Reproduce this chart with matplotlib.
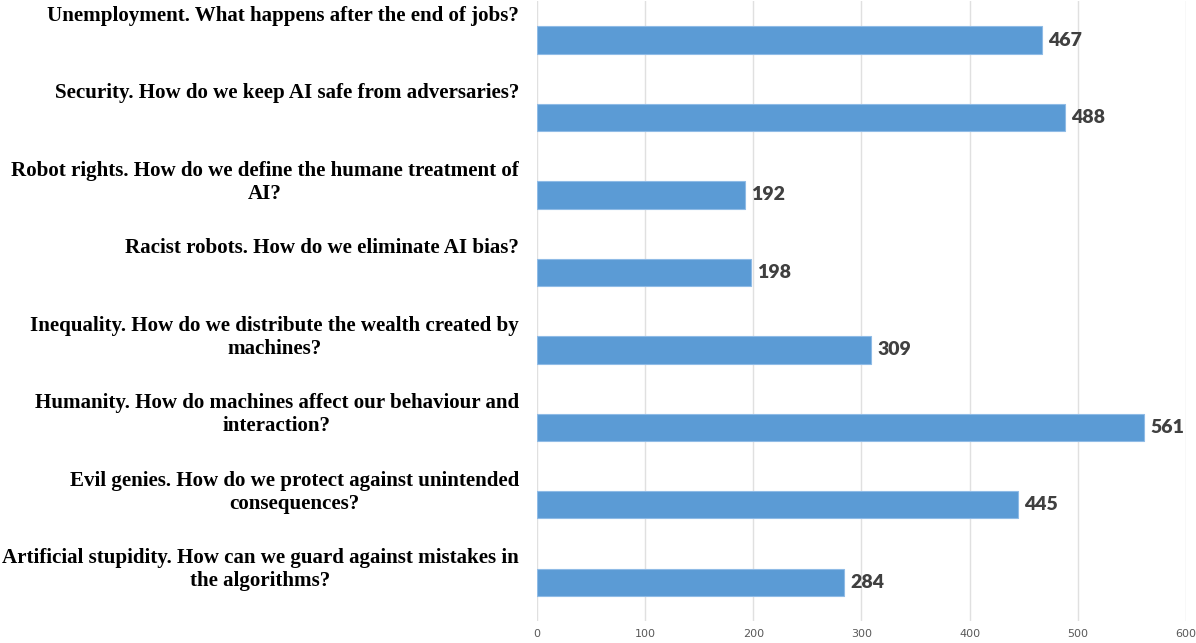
import matplotlib.pyplot as plt

categories = [
    "Unemployment. What happens after the end of jobs?",
    "Security. How do we keep AI safe from adversaries?",
    "Robot rights. How do we define the humane treatment of\nAI?",
    "Racist robots. How do we eliminate AI bias?",
    "Inequality. How do we distribute the wealth created by\nmachines?",
    "Humanity. How do machines affect our behaviour and\ninteraction?",
    "Evil genies. How do we protect against unintended\nconsequences?",
    "Artificial stupidity. How can we guard against mistakes in\nthe algorithms?",
]
values = [467, 488, 192, 198, 309, 561, 445, 284]
xticks = [0, 100, 200, 300, 400, 500, 600]

fig = plt.figure(figsize=(11.96, 6.43), dpi=100)
ax = fig.add_axes([0.449, 0.034, 0.5425, 0.964])

pos = list(range(len(categories)))
ax.barh(pos, values, height=0.35, color='#5b9bd5', edgecolor='#8fbbe6', linewidth=0.8, zorder=2)

for i, v in enumerate(values):
    ax.annotate(str(v), xy=(v, i), xytext=(4.5, 0), textcoords='offset points',
                ha='left', va='center', fontsize=14, fontweight='heavy',
                color='#404040', family='Lato')

for i, lab in enumerate(categories):
    ax.annotate(lab, xy=(0, i - 0.44), xycoords=ax.get_yaxis_transform(),
                xytext=(-13, 0), textcoords='offset points',
                ha='right', va='top', multialignment='center',
                fontsize=15.1, fontweight='bold', family='Liberation Serif',
                color='black', linespacing=1.2, annotation_clip=False)

ax.set_xlim(0, 600)
ax.set_ylim(len(categories) - 0.5, -0.5)
ax.set_xticks(xticks)
ax.set_yticks([])
ax.grid(axis='x', color='#e0e0e0', linewidth=1, zorder=0)
ax.tick_params(axis='x', length=0, labelsize=8, labelcolor='#595959', pad=6)
for s in ax.spines.values():
    s.set_visible(False)

fig.savefig('out.png', dpi=100)
